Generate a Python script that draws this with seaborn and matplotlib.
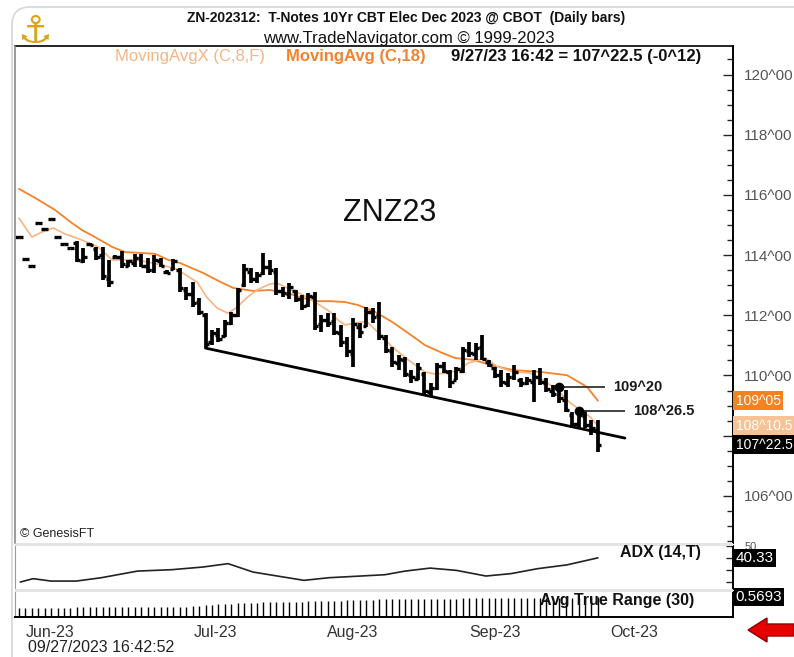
import numpy as np
import pandas as pd
import seaborn as sns
import matplotlib.pyplot as plt
from matplotlib.patches import Rectangle, Polygon, FancyBboxPatch
from matplotlib.ticker import MultipleLocator

# daily OHLC bars, ZNZ23
highs = [114.62, 113.90, 113.67, 115.10, 114.90, 115.23, 114.64, 114.40, 114.28, 114.47,
         114.24, 114.40, 114.27, 114.27, 113.84, 113.99, 114.14, 113.84, 114.04, 114.04,
         113.90, 114.00, 113.90, 113.50, 113.87, 113.57, 112.94, 113.11, 112.57, 112.08,
         111.51, 111.58, 111.84, 112.11, 112.91, 113.70, 113.57, 113.44, 114.07, 113.84,
         113.57, 112.94, 113.07, 112.84, 112.67, 112.74, 112.77, 112.01, 112.08, 112.08,
         111.68, 111.28, 111.91, 111.74, 112.28, 112.24, 112.44, 111.34, 110.95, 110.68,
         110.61, 110.18, 110.41, 110.12, 109.75, 110.41, 110.45, 110.18, 110.28, 110.95,
         111.11, 111.08, 111.34, 110.51, 110.28, 110.18, 110.08, 110.35, 109.92, 109.95,
         110.18, 110.25, 109.92, 109.68, 109.68, 109.52, 108.79, 108.92, 108.85, 108.52,
         108.52]
lows = [114.56, 113.84, 113.61, 115.04, 114.84, 115.17, 114.58, 114.34, 114.22, 113.77,
        113.74, 114.30, 113.84, 113.17, 112.94, 113.90, 113.57, 113.60, 113.60, 113.60,
        113.40, 113.40, 113.60, 113.37, 113.50, 112.77, 112.51, 112.28, 112.01, 110.91,
        111.01, 111.11, 111.28, 111.68, 111.94, 112.94, 113.07, 113.07, 113.34, 113.34,
        112.67, 112.61, 112.54, 112.44, 112.18, 112.28, 111.51, 111.44, 111.61, 111.34,
        110.94, 110.61, 110.28, 111.24, 111.61, 111.74, 111.18, 110.75, 110.28, 110.18,
        109.95, 109.75, 109.85, 109.35, 109.29, 109.52, 110.08, 109.58, 109.85, 110.08,
        110.61, 110.51, 110.51, 110.28, 109.92, 109.62, 109.62, 109.85, 109.62, 109.68,
        109.12, 109.68, 109.45, 109.29, 109.09, 108.79, 108.26, 108.26, 108.26, 108.02,
        107.46]
opens = [114.59, 113.87, 113.64, 115.07, 114.87, 115.20, 114.61, 114.37, 114.25, 114.40,
         113.80, 114.37, 114.20, 114.00, 113.20, 113.95, 113.95, 113.65, 113.75, 113.90,
         113.65, 113.50, 113.80, 113.45, 113.55, 113.50, 112.85, 112.70, 112.45, 112.00,
         111.10, 111.35, 111.30, 111.75, 112.00, 113.00, 113.45, 113.20, 113.40, 113.60,
         113.45, 112.80, 112.70, 112.80, 112.55, 112.35, 112.60, 111.70, 111.85, 111.80,
         111.40, 111.10, 110.70, 111.60, 111.65, 112.10, 112.00, 111.25, 110.80, 110.40,
         110.50, 110.00, 109.90, 110.05, 109.45, 109.60, 110.30, 110.10, 109.85, 110.15,
         110.80, 110.70, 110.95, 110.45, 110.25, 110.00, 109.75, 109.95, 109.85, 109.75,
         109.80, 109.95, 109.75, 109.50, 109.55, 109.20, 108.70, 108.40, 108.65, 108.35,
         108.20]
closes = [114.59, 113.87, 113.64, 115.07, 114.87, 115.20, 114.61, 114.37, 114.25, 113.85,
          113.95, 114.33, 113.95, 113.30, 113.10, 113.95, 113.70, 113.80, 113.90, 113.65,
          113.50, 113.85, 113.65, 113.40, 113.80, 112.90, 112.70, 112.40, 112.10, 111.05,
          111.40, 111.20, 111.75, 112.00, 112.85, 113.55, 113.20, 113.35, 113.60, 113.50,
          112.80, 112.75, 112.95, 112.55, 112.30, 112.65, 111.65, 111.85, 111.75, 111.45,
          111.10, 110.80, 111.70, 111.45, 112.10, 111.95, 111.30, 110.85, 110.45, 110.55,
          110.05, 109.95, 110.25, 109.50, 109.60, 110.30, 110.15, 109.80, 110.20, 110.85,
          110.75, 110.90, 110.55, 110.35, 110.00, 109.80, 109.95, 110.10, 109.75, 109.85,
          109.95, 109.80, 109.55, 109.40, 109.25, 108.85, 108.40, 108.70, 108.35, 108.25,
          107.70]

# MovingAvg (C,18) and MovingAvgX (C,8,F), sampled along the lines
ma18_idx = [0, 2.5, 5.6, 8.2, 9.8, 11.8, 14.5, 16.5, 19.1, 21.2, 23.2, 25, 28.6, 31.3, 33.3,
            36.4, 39, 41.7, 44.2, 46.3, 48.4, 50.7, 52.7, 55.4, 58, 60.5, 63.1, 65.8, 67.8,
            70.6, 73.3, 76.8, 81, 85.2, 88.3, 90]
ma18 = [116.20, 115.90, 115.50, 115.07, 114.83, 114.60, 114.27, 114.10, 114.07, 114.04,
        113.84, 113.74, 113.41, 113.11, 112.91, 112.81, 112.84, 112.74, 112.57, 112.47,
        112.47, 112.44, 112.34, 112.11, 111.78, 111.41, 111.01, 110.75, 110.58, 110.52,
        110.35, 110.18, 110.12, 110.01, 109.62, 109.16]
ma8_idx = [0, 2, 3.6, 5.3, 7.2, 9.8, 12.3, 14.5, 16, 18, 20, 22.2, 24.3, 25.5, 27.7, 29.2,
           30.8, 32.5, 33.9, 35.5, 37, 39, 40.1, 41.7, 44.2, 46.3, 48.4, 49.6, 50.7, 52.3,
           53.3, 54.3, 55.8, 58, 60.5, 63.1, 64.7, 66.7, 68.3, 69.8, 72.5, 74.3, 76.8, 79.5,
           81.5, 83.7, 85.7, 87.7, 88.8, 90]
ma8 = [115.23, 114.60, 114.77, 114.90, 114.70, 114.50, 114.27, 113.84, 113.84, 113.84,
       113.77, 113.67, 113.55, 113.40, 113.10, 112.60, 112.24, 112.07, 112.27, 112.60,
       112.84, 113.04, 113.07, 112.91, 112.67, 112.40, 112.11, 111.84, 111.68, 111.74,
       111.78, 111.74, 111.44, 110.95, 110.52, 110.12, 110.05, 110.08, 110.18, 110.41,
       110.58, 110.30, 110.12, 110.08, 109.85, 109.52, 109.09, 108.79, 108.62, 108.33]

# ADX (14,T)
adx_idx = [0.2, 2.2, 5, 8.9, 12.8, 18.4, 23.8, 28.6, 32.5, 36.4, 41.2, 44.3, 48.2, 52.1,
           56.9, 60, 63.9, 68, 72.6, 76.5, 80.6, 85.2, 90]
adx = [20.2, 23.0, 21.0, 21.0, 23.8, 29.3, 30.5, 32.7, 35.5, 28.5, 24.3, 21.6, 23.8, 24.9,
       26.3, 29.3, 31.8, 29.9, 25.2, 27.2, 31.3, 34.5, 40.33]

# Avg True Range (30)
atr = [0.26, 0.26, 0.27, 0.27, 0.27, 0.27, 0.27, 0.27, 0.27, 0.28,
       0.28, 0.28, 0.28, 0.29, 0.29, 0.29, 0.29, 0.29, 0.29, 0.29,
       0.29, 0.29, 0.29, 0.29, 0.30, 0.30, 0.30, 0.31, 0.32, 0.35,
       0.36, 0.37, 0.38, 0.38, 0.39, 0.40, 0.40, 0.41, 0.42, 0.42,
       0.43, 0.43, 0.43, 0.44, 0.44, 0.45, 0.46, 0.46, 0.46, 0.47,
       0.47, 0.48, 0.49, 0.49, 0.50, 0.50, 0.51, 0.51, 0.51, 0.51,
       0.52, 0.52, 0.52, 0.52, 0.53, 0.53, 0.53, 0.53, 0.53, 0.54,
       0.54, 0.54, 0.54, 0.54, 0.54, 0.55, 0.55, 0.55, 0.55, 0.55,
       0.55, 0.55, 0.55, 0.56, 0.56, 0.56, 0.56, 0.56, 0.56, 0.57,
       0.5693]

trend_x = [29, 94.2]
trend_y = [110.91, 107.92]
marks_x = [84, 87]
marks_y = [109.625, 108.828]
marks_end = [91.1, 94.2]

month_pos = [4.8, 30.6, 51.8, 74.0, 95.6]
month_lbl = ['Jun-23', 'Jul-23', 'Aug-23', 'Sep-23', 'Oct-23']


def to32(p):
    whole = int(p)
    frac = (p - whole) * 32
    if abs(frac - round(frac)) < 0.01:
        return f"{whole}^{int(round(frac)):02d}"
    return f"{whole}^{frac:04.1f}"


sns.set_theme(style='white')
plt.rcParams['font.family'] = ['Liberation Sans', 'DejaVu Sans']

W, H = 794, 657
fx = lambda x: x / W
fy = lambda y: 1 - y / H

fig = plt.figure(figsize=(W / 100, H / 100), dpi=100)
ax = fig.add_axes([fx(15), fy(543), 718 / W, 497 / H])
ax_adx = fig.add_axes([fx(15), fy(589), 718 / W, 43 / H])
ax_atr = fig.add_axes([fx(15), fy(617), 718 / W, 25 / H])

idx = np.arange(len(highs))
xlim = (-0.62, 111.0)

# price bars
ax.vlines(idx, lows, highs, color='black', lw=2.7, zorder=3)
ax.hlines(opens, idx - 0.55, idx, color='black', lw=2.4, zorder=3)
ax.hlines(closes, idx, idx + 0.55, color='black', lw=2.4, zorder=3)

df18 = pd.DataFrame({'i': ma18_idx, 'v': ma18})
df8 = pd.DataFrame({'i': ma8_idx, 'v': ma8})
sns.lineplot(data=df18, x='i', y='v', ax=ax, color='#f5822a', lw=1.3, zorder=2)
sns.lineplot(data=df8, x='i', y='v', ax=ax, color='#f8b483', lw=1.2, zorder=2)

ax.plot(trend_x, trend_y, color='black', lw=2.0, zorder=4)
for mx, my, me in zip(marks_x, marks_y, marks_end):
    ax.hlines(my, mx, me, color='#333333', lw=1.3, zorder=4)
    ax.plot(mx, my, 'o', ms=6, color='black', zorder=5)
    ax.text(me + 1.3, my, to32(my), fontsize=10.5, fontweight='bold', va='center',
            color='#1a1a1a')

ax.set_xlim(xlim)
ax.set_ylim(104.435, 120.947)
ax.set_xlabel('')
ax.set_ylabel('')
ax.set_xticks([])
ax.yaxis.tick_right()
ax.yaxis.set_major_locator(MultipleLocator(2))
ax.yaxis.set_minor_locator(MultipleLocator(0.5))
ax.set_yticks(np.arange(106, 121, 2))
ax.set_yticklabels([to32(v) if v != 108 else '' for v in np.arange(106, 121, 2)])
ax.tick_params(axis='y', which='major', direction='in', length=7, width=1,
               labelsize=11, labelcolor='#555555', pad=8, right=True, left=False)
ax.tick_params(axis='y', which='minor', direction='in', length=4, width=1, right=True, left=False)
for s in ['left', 'bottom']:
    ax.spines[s].set_visible(False)
ax.spines['top'].set_color('black')
ax.spines['right'].set_color('black')
ax.spines['right'].set_linewidth(1.4)
ax.spines['top'].set_linewidth(1.2)

tr = ax.get_yaxis_transform()
for val, fc in [(109.156, '#f5821f'), (108.328, '#f9c294'), (107.703, 'black')]:
    ax.text(1.004, val, to32(val), transform=tr, ha='left', va='center', color='white',
            fontsize=10, clip_on=False, zorder=10,
            bbox=dict(boxstyle='square,pad=0.18', fc=fc, ec='none'))

# ADX panel
sns.lineplot(x=adx_idx, y=adx, ax=ax_adx, color='#222222', lw=1.2)
ax_adx.set_xlim(xlim)
ax_adx.set_ylim(14.4, 50.2)
ax_adx.set_xticks([])
ax_adx.yaxis.tick_right()
ax_adx.set_yticks([20, 30, 40, 50])
ax_adx.set_yticklabels(['', '', '', '50'])
ax_adx.tick_params(axis='y', direction='in', length=5, width=1, labelsize=8,
                   labelcolor='#555555', pad=8, right=True, left=False)
ax_adx.text(1.004, adx[-1], f"{adx[-1]:.2f}", transform=ax_adx.get_yaxis_transform(),
            ha='left', va='center', color='white', fontsize=11, clip_on=False, zorder=10,
            bbox=dict(boxstyle='square,pad=0.12', fc='black', ec='none'))

# ATR panel
ax_atr.vlines(idx, 0, atr, color='black', lw=1)
ax_atr.set_xlim(xlim)
ax_atr.set_ylim(0, 0.72)
ax_atr.set_yticks([])
ax_atr.set_xticks(month_pos)
ax_atr.set_xticklabels(month_lbl)
ax_atr.tick_params(axis='x', length=0, labelsize=11.5, labelcolor='#333333', pad=6)
ax_atr.text(1.004, atr[-1], f"{atr[-1]:.4f}", transform=ax_atr.get_yaxis_transform(),
            ha='left', va='center', color='white', fontsize=11, clip_on=False, zorder=10,
            bbox=dict(boxstyle='square,pad=0.12', fc='black', ec='none'))

for a in (ax_adx, ax_atr):
    a.set_xlabel('')
    a.set_ylabel('')
    a.spines['top'].set_visible(False)
    a.spines['left'].set_color('#9a9a9a')
    a.spines['left'].set_linewidth(0.8)
    a.spines['right'].set_color('black')
    a.spines['right'].set_linewidth(1.4)
ax_adx.spines['bottom'].set_visible(False)
ax_atr.spines['bottom'].set_color('black')
ax_atr.spines['bottom'].set_linewidth(1.4)

# left border of the main panel
fig.add_artist(plt.Line2D([fx(15), fx(15)], [fy(46), fy(543)], color='#8a8a8a', lw=1.2))

# grey separators between panels
for y0, y1 in [(543, 546), (589, 592)]:
    fig.add_artist(Rectangle((fx(15), fy(y1)), 718 / W, (y1 - y0) / H,
                             transform=fig.transFigure, fc='#e4e4e4', ec='none'))

# header texts
fig.text(fx(406), fy(18), 'ZN-202312:  T-Notes 10Yr CBT Elec Dec 2023 @ CBOT  (Daily bars)',
         ha='center', va='center', fontsize=10, fontweight='bold', color='#111111')
fig.text(fx(409), fy(38), 'www.TradeNavigator.com \u00a9 1999-2023', ha='center', va='center',
         fontsize=12, color='#111111')
fig.text(fx(115), fy(57), 'MovingAvgX (C,8,F)', ha='left', va='center', fontsize=12,
         color='#f8b483')
fig.text(fx(286), fy(57), 'MovingAvg (C,18)', ha='left', va='center', fontsize=12,
         fontweight='bold', color='#f5822a')
fig.text(fx(451), fy(57), '9/27/23 16:42 = 107^22.5 (-0^12)', ha='left', va='center',
         fontsize=12, fontweight='bold', color='#111111')
fig.text(fx(35), fy(32), '\u2693', ha='center', va='center', fontsize=28, color='#d9a520',
         family=['DejaVu Sans'])

fig.text(fx(390), fy(213), 'ZNZ23', ha='center', va='center', fontsize=22, color='#111111')
fig.text(fx(20), fy(534), '\u00a9 GenesisFT', ha='left', va='center', fontsize=9,
         color='#222222')
fig.text(fx(620), fy(553), 'ADX (14,T)', ha='left', va='center', fontsize=11.5,
         fontweight='bold', color='#111111')
fig.text(fx(540), fy(600), 'Avg True Range (30)', ha='left', va='center', fontsize=11.5,
         fontweight='bold', color='#111111')
fig.text(fx(28), fy(648), '09/27/2023 16:42:52', ha='left', va='center', fontsize=11.5,
         color='#222222')

# red arrow at the bottom right (pixel coords, via inches)
pts = np.array([(748, 630), (767, 618), (767, 624), (794, 624), (794, 636), (767, 636),
                (767, 642)], dtype=float)
pts_in = np.column_stack([pts[:, 0] / 100, (H - pts[:, 1]) / 100])
fig.add_artist(Polygon(pts_in, closed=True, transform=fig.dpi_scale_trans,
                       fc='#e60000', ec='#8b0000', lw=1))

# card outline
fig.add_artist(FancyBboxPatch((0.12, -0.5), 9, 7.0, transform=fig.dpi_scale_trans,
                              boxstyle='round,pad=0,rounding_size=0.18',
                              fc='none', ec='#d6d6d6', lw=1.2))

fig.savefig('out.png', dpi=100)
